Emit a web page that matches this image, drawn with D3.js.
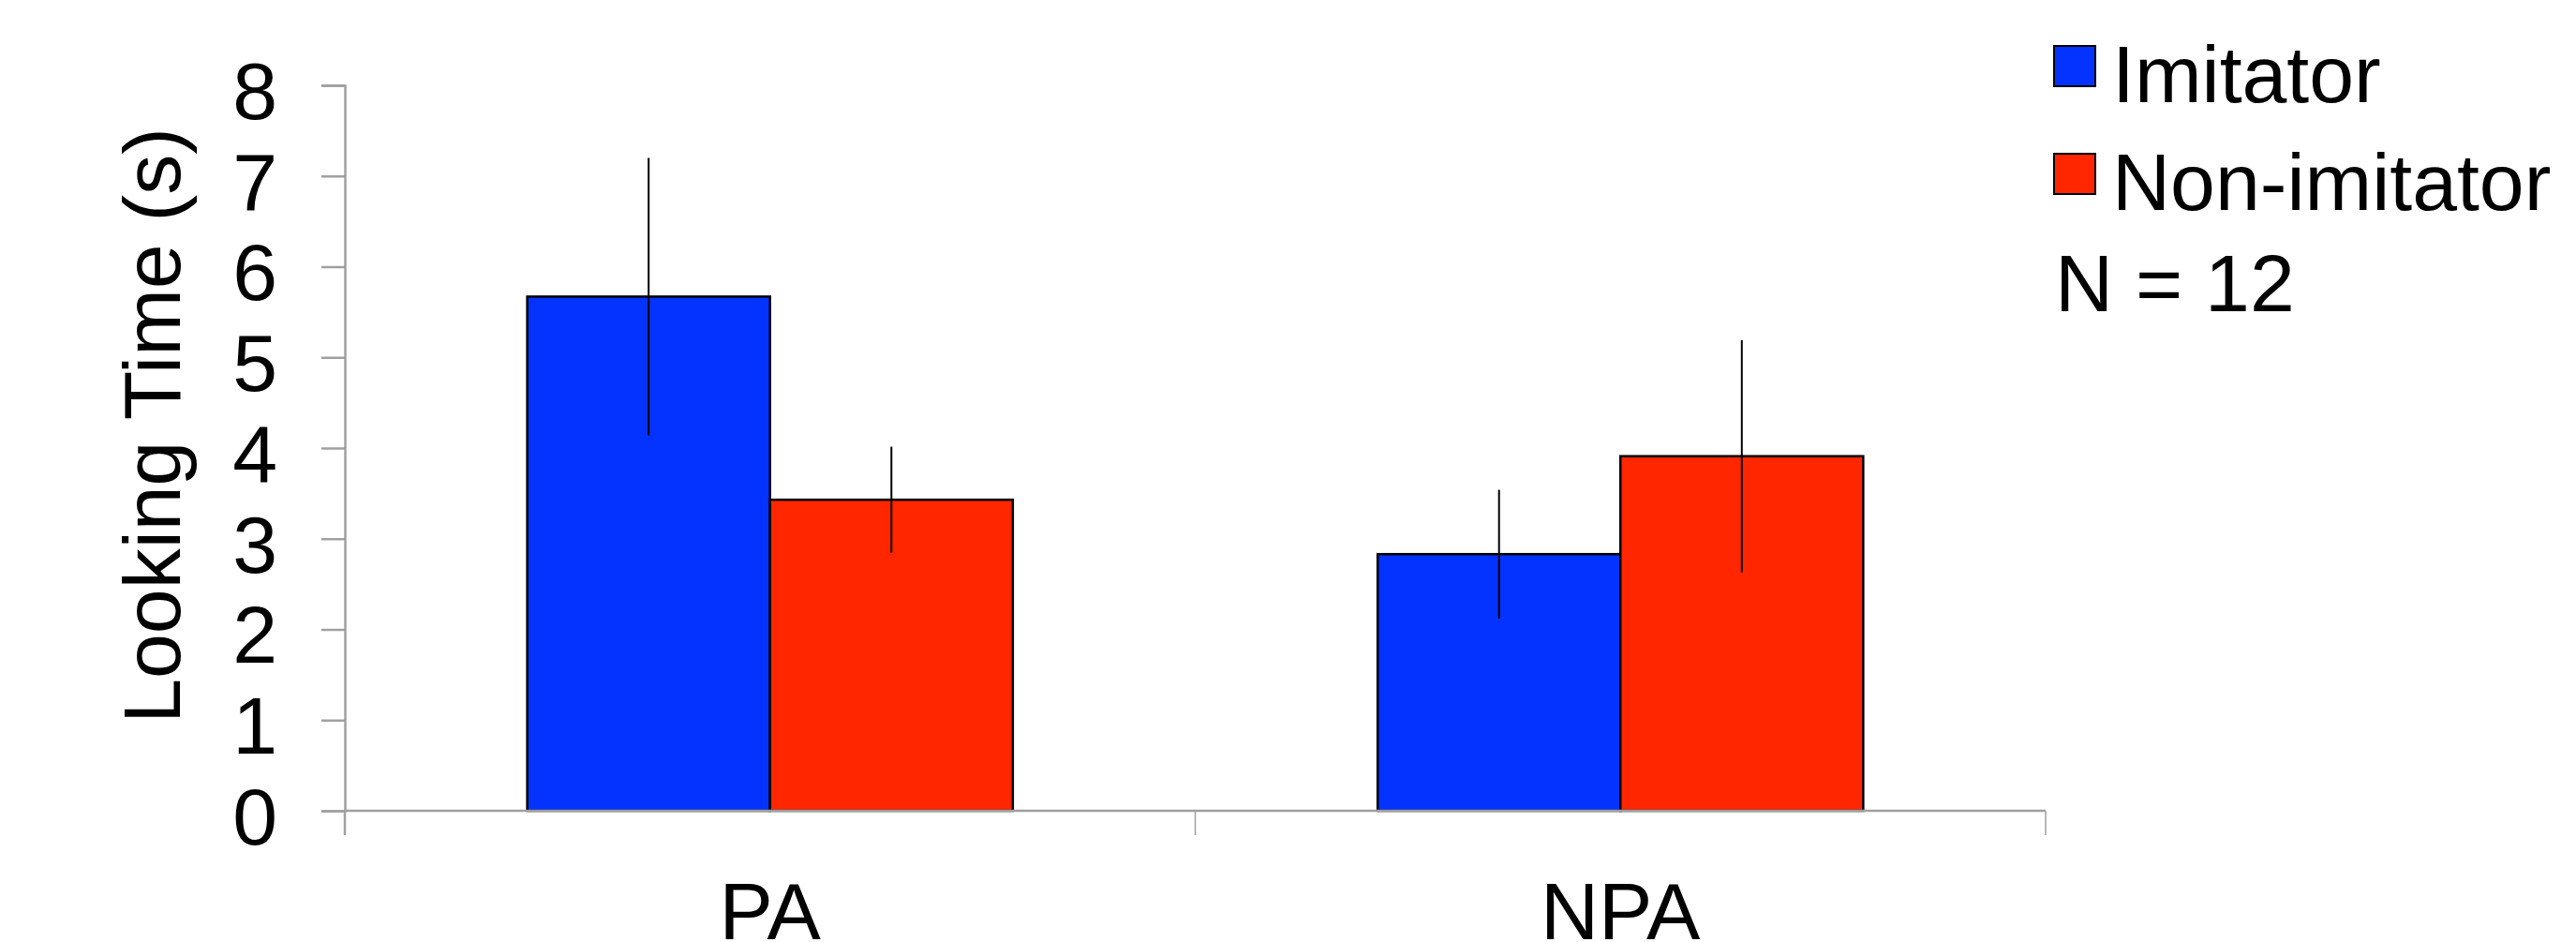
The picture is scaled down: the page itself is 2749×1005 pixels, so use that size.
<!DOCTYPE html>
<html>
<head>
<meta charset="utf-8">
<script src="https://cdn.jsdelivr.net/npm/d3@7"></script>
<style>
  html, body { margin: 0; padding: 0; background: #fff; }
  svg { display: block; font-family: "Liberation Sans", Arial, Helvetica, sans-serif; }
</style>
</head>
<body>
<div id="chart"></div>
<script>
/* data */
const groups = ['PA', 'NPA'];
const seriesNames = ['Imitator', 'Non-imitator'];
const seriesColors = ['#0433FF', '#FF2600'];
const imitatorMeans = [5.67, 2.83];
const imitatorErr = [1.53, 0.71];
const nonImitatorMeans = [3.43, 3.91];
const nonImitatorErr = [0.585, 1.28];
const yTicks = [0, 1, 2, 3, 4, 5, 6, 7, 8];
const yTitle = 'Looking Time (s)';
const sampleNote = 'N = 12';

const W = 2749, H = 1005;
const m = { t: 91, r: W - 2183, b: H - 865, l: 368 };
const w = W - m.l - m.r, h = H - m.t - m.b;
const FS = 86;
const AXIS = '#A0A0A0';

const svg = d3.select('#chart').append('svg')
  .attr('width', W).attr('height', H).attr('viewBox', `0 0 ${W} ${H}`);
const g = svg.append('g').attr('transform', `translate(${m.l},${m.t})`);

const rows = groups.map((grp, i) => ({
  grp,
  vals: [
    { s: 0, mean: imitatorMeans[i], err: imitatorErr[i] },
    { s: 1, mean: nonImitatorMeans[i], err: nonImitatorErr[i] }
  ]
}));

const x0 = d3.scaleBand().domain(groups).range([0, w]).padding(0);
const bw = x0.bandwidth();
const x1 = d3.scaleBand().domain([0, 1]).range([bw * 0.2145, bw * 0.7855]).padding(0);
const y = d3.scaleLinear().domain([0, 8]).range([h, 0]);

/* bars */
const gg = g.selectAll('.grp').data(rows).join('g')
  .attr('class', 'grp')
  .attr('transform', d => `translate(${x0(d.grp)},0)`);

gg.selectAll('rect').data(d => d.vals).join('rect')
  .attr('x', d => x1(d.s)).attr('width', x1.bandwidth())
  .attr('y', d => y(d.mean)).attr('height', d => h - y(d.mean))
  .attr('fill', d => seriesColors[d.s])
  .attr('stroke', '#000').attr('stroke-width', 2.5);

/* error bars, no caps */
gg.selectAll('line.err').data(d => d.vals).join('line')
  .attr('class', 'err')
  .attr('x1', d => x1(d.s) + x1.bandwidth() / 2)
  .attr('x2', d => x1(d.s) + x1.bandwidth() / 2)
  .attr('y1', d => y(d.mean + d.err))
  .attr('y2', d => y(d.mean - d.err))
  .attr('stroke', '#000').attr('stroke-width', 2);

/* y axis */
const ya = g.append('g')
  .call(d3.axisLeft(y).tickValues(yTicks).tickSize(25).tickPadding(47).tickFormat(d3.format('d')));
ya.selectAll('path, line').attr('stroke', AXIS).attr('stroke-width', 2.5);
ya.selectAll('text')
  .attr('font-size', FS).attr('fill', '#000')
  .attr('font-family', '"Liberation Sans", Arial, sans-serif')
  .attr('dy', '0.41em');

/* x axis: baseline, group boundary ticks, labels */
g.append('line')
  .attr('x1', 0).attr('x2', w).attr('y1', h).attr('y2', h)
  .attr('stroke', AXIS).attr('stroke-width', 2.5);
const bounds = groups.map(d => x0(d)).concat([x0.range()[1]]);
g.selectAll('.xtick').data(bounds).join('line')
  .attr('class', 'xtick')
  .attr('x1', d => d).attr('x2', d => d)
  .attr('y1', h).attr('y2', h + 26)
  .attr('stroke', AXIS).attr('stroke-width', d => d === 0 ? 2.5 : 1.5);
g.selectAll('.xlab').data(groups).join('text')
  .attr('class', 'xlab')
  .attr('x', d => x0(d) + bw / 2).attr('y', h + 137)
  .attr('text-anchor', 'middle').attr('font-size', FS).attr('fill', '#000')
  .text(d => d);

/* y title */
svg.append('text')
  .attr('transform', `translate(192,454) rotate(-90)`)
  .attr('text-anchor', 'middle').attr('font-size', FS).attr('fill', '#000')
  .text(yTitle);

/* legend */
const leg = svg.append('g').attr('transform', 'translate(2192,49)');
seriesNames.forEach((name, i) => {
  const r = leg.append('g').attr('transform', `translate(0,${i * 115})`);
  r.append('rect').attr('x', 0).attr('y', 0).attr('width', 44).attr('height', 43)
    .attr('fill', seriesColors[i]).attr('stroke', '#000').attr('stroke-width', 2);
  r.append('text').attr('x', 62).attr('y', 60)
    .attr('font-size', FS).attr('fill', '#000').text(name);
});
svg.append('text').attr('x', 2193).attr('y', 332)
  .attr('font-size', FS).attr('fill', '#000').text(sampleNote);
</script>
</body>
</html>
